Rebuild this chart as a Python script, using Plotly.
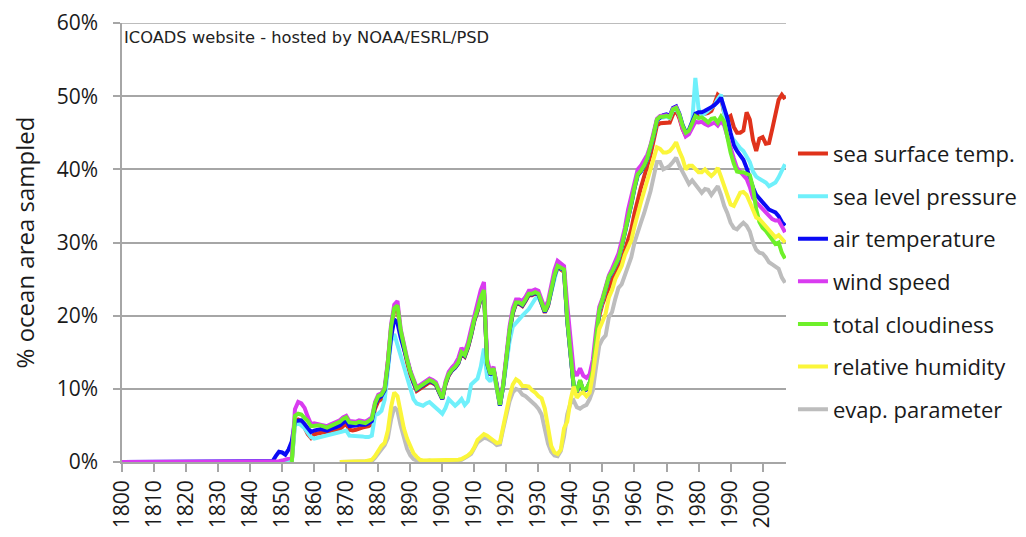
import plotly.graph_objects as go

YEARS = [1800] + list(range(1846, 2008))

N = None
# --- series values (% ocean area sampled) ---
sst = ([0.0] + [0.0, 0.0, 0.0, 0.0]
       + [0.0, 0.0, 0.0, 0.0, 5.5, 5.8, 5.6, 4.6, 3.8, 3.3]
       + [3.8, 3.9, 4.0, 4.1, 4.1, 4.2, 4.3, 4.4, 4.5, 4.9]
       + [5.2, 4.4, 4.3, 4.4, 4.6, 4.7, 4.8, 4.9, 5.2, 7.3]
       + [8.3, 8.6, 9.3, 13.2, 18.2, 20.8, 21.2, 17.7, 15.4, 13.6]
       + [11.9, 10.7, 9.7, 10.0, 10.3, 10.6, 10.9, 10.8, 10.5, 9.5]
       + [8.6, 10.6, 11.8, 12.5, 12.9, 13.5, 14.8, 14.4, 15.6, 17.3]
       + [19.3, 20.6, 22.3, 23.3, 13.4, 11.9, 12.7, 10.1, 7.7, 10.4]
       + [14.3, 17.8, 20.3, 21.6, 21.6, 21.3, 22.0, 22.8, 22.8, 23.0]
       + [22.8, 21.6, 20.4, 21.3, 23.3, 25.3, 26.6, 26.3, 26.0, 19.3]
       + [14.8, 10.4, 9.5, 11.0, 9.7, 9.9, 10.7, 12.3, 16.5, 20.0]
       + [21.6, 22.6, 23.8, 25.0, 26.0, 26.8, 27.5, 29.0, 30.5, 31.8]
       + [34.0, 36.0, 37.5, 39.0, 40.5, 42.0, 44.0, 46.0, 46.3, 46.3]
       + [46.4, 46.4, 47.5, 48.0, 47.0, 45.5, 44.6, 45.0, 46.0, 47.3]
       + [47.5, 47.5, 47.6, 47.7, 48.0, 49.0, 50.2, 49.8, 47.7, 47.0]
       + [47.3, 45.8, 45.0, 45.0, 45.3, 47.8, 46.8, 44.0, 42.5, 44.2]
       + [44.4, 43.5, 43.6, 45.5, 47.5, 49.5, 50.2, 49.6])

slp = ([0.0] + [0.0, 0.0, 0.0, 0.0]
       + [0.0, 0.0, 0.0, 0.0, 5.0, 5.3, 5.0, 4.6, 4.0, 3.4]
       + [3.2, 3.3, 3.4, 3.5, 3.6, 3.8, 3.9, 4.0, 4.1, 4.2]
       + [4.3, 3.6, 3.6, 3.6, 3.5, 3.5, 3.4, 3.4, 3.6, 6.4]
       + [6.6, 7.0, 8.5, 12.5, 16.5, 17.5, 16.0, 14.5, 13.0, 11.8]
       + [10.2, 8.6, 8.0, 7.8, 7.7, 8.0, 8.2, 7.8, 7.3, 7.0]
       + [6.6, 7.4, 8.6, 8.2, 7.7, 8.1, 8.6, 7.8, 8.3, 10.6]
       + [11.0, 11.4, 13.0, 15.5, 11.5, 11.0, 12.3, 10.0, 7.7, 10.3]
       + [13.5, 16.5, 18.5, 19.1, 19.5, 20.0, 20.4, 20.9, 21.6, 22.3]
       + [22.6, 21.6, 20.6, 21.5, 23.4, 25.4, 26.7, 26.4, 26.2, 19.4]
       + [14.9, 10.4, 9.7, 11.1, 9.7, 9.9, 10.8, 12.4, 16.8, 20.5]
       + [22.0, 23.5, 25.2, 25.9, 26.7, 27.7, 29.4, 31.2, 33.4, 35.2]
       + [37.4, 39.2, 39.7, 40.4, 41.4, 42.9, 44.7, 46.7, 47.1, 47.1]
       + [47.2, 47.0, 48.1, 48.3, 47.4, 45.9, 44.9, 45.2, 46.3, 52.5]
       + [48.3, 47.3, 47.6, 48.0, 48.4, 48.8, 49.6, 50.2, 47.7, 45.6]
       + [44.6, 44.0, 43.4, 42.9, 42.5, 41.8, 41.0, 39.7, 39.0, 38.7]
       + [38.5, 38.2, 37.7, 37.9, 38.2, 38.9, 39.7, 40.7])

air = ([0.0] + [0.0, 0.1, 0.8, 1.4]
       + [1.3, 1.0, 1.7, 2.8, 5.6, 5.7, 5.7, 5.2, 4.6, 4.1]
       + [4.3, 4.4, 4.5, 4.4, 4.3, 4.5, 4.6, 4.8, 5.0, 5.4]
       + [5.7, 4.9, 4.9, 5.0, 5.1, 5.1, 5.1, 5.3, 5.6, 7.8]
       + [8.7, 9.0, 9.8, 13.2, 17.0, 19.5, 19.0, 17.0, 15.5, 13.8]
       + [12.1, 10.9, 9.9, 10.2, 10.5, 10.9, 11.1, 10.9, 10.6, 9.5]
       + [8.6, 10.7, 11.9, 12.5, 12.9, 13.5, 14.9, 14.5, 15.7, 17.4]
       + [19.4, 20.7, 22.4, 23.4, 13.4, 11.9, 12.7, 10.6, 7.7, 10.4]
       + [14.4, 17.9, 20.4, 21.7, 21.7, 21.4, 22.1, 22.9, 22.9, 23.1]
       + [22.9, 21.7, 20.5, 21.4, 23.4, 25.4, 26.7, 26.4, 26.2, 19.4]
       + [14.9, 10.4, 9.5, 11.1, 9.7, 9.9, 10.8, 12.4, 16.9, 20.6]
       + [22.1, 23.5, 25.2, 25.9, 26.7, 27.7, 29.4, 31.2, 33.4, 35.2]
       + [37.4, 39.2, 39.7, 40.4, 41.4, 42.9, 44.7, 46.7, 47.1, 47.4]
       + [47.5, 47.3, 48.4, 48.6, 47.6, 46.1, 45.1, 45.4, 46.5, 47.6]
       + [47.8, 47.8, 48.0, 48.2, 48.5, 48.8, 49.2, 49.8, 48.5, 47.0]
       + [45.0, 43.3, 42.5, 41.8, 41.3, 40.2, 38.8, 37.5, 36.5, 36.0]
       + [35.7, 35.0, 34.5, 34.3, 34.1, 33.6, 32.8, 32.3])

wind = ([0.0] + [0.0, 0.0, 0.0, 0.1]
        + [0.2, 0.3, 0.4, 0.6, 7.2, 8.2, 8.0, 7.4, 6.2, 5.2]
        + [5.3, 5.2, 5.2, 5.1, 4.9, 5.1, 5.3, 5.5, 5.7, 6.1]
        + [6.3, 5.6, 5.5, 5.5, 5.7, 5.6, 5.5, 5.8, 6.1, 8.2]
        + [9.2, 9.4, 10.2, 13.8, 18.8, 21.5, 22.0, 18.2, 16.0, 14.2]
        + [12.5, 11.2, 10.2, 10.5, 10.8, 11.2, 11.4, 11.2, 10.9, 9.8]
        + [8.9, 11.0, 12.3, 12.9, 13.4, 14.2, 15.6, 15.0, 16.3, 18.2]
        + [20.0, 21.5, 23.5, 24.6, 14.0, 12.3, 13.0, 10.4, 8.0, 10.7]
        + [14.8, 18.5, 21.0, 22.2, 22.2, 22.0, 22.6, 23.4, 23.4, 23.6]
        + [23.4, 22.2, 21.0, 22.0, 24.0, 26.2, 27.5, 27.2, 26.8, 21.5]
        + [17.5, 12.5, 11.8, 12.8, 11.8, 11.5, 12.0, 14.0, 18.0, 21.2]
        + [22.4, 23.8, 25.5, 26.4, 27.3, 28.5, 30.2, 32.0, 34.5, 36.3]
        + [38.3, 40.0, 40.5, 41.2, 42.0, 43.3, 45.0, 46.9, 47.3, 47.3]
        + [47.4, 47.2, 48.3, 48.5, 47.4, 45.6, 44.5, 44.8, 45.6, 46.5]
        + [46.4, 46.5, 46.2, 46.0, 46.2, 46.4, 46.0, 46.6, 46.0, 44.5]
        + [42.7, 41.5, 40.2, 39.7, 39.2, 38.7, 37.6, 36.1, 35.5, 35.0]
        + [34.6, 34.1, 33.6, 33.2, 33.0, 33.0, 32.2, 31.4])

cloud = ([N] + [N, N, N, N]
         + [N, N, N, 0.0, 6.3, 6.6, 6.5, 6.0, 5.6, 4.9]
         + [5.0, 5.0, 5.0, 4.9, 4.7, 4.9, 5.1, 5.3, 5.5, 5.9]
         + [6.1, 5.4, 5.3, 5.3, 5.5, 5.4, 5.3, 5.6, 5.9, 8.0]
         + [9.0, 9.2, 10.0, 13.5, 18.5, 21.0, 21.4, 18.0, 15.8, 14.0]
         + [12.3, 11.0, 10.0, 10.3, 10.6, 11.0, 11.2, 11.0, 10.7, 9.6]
         + [8.7, 10.8, 12.0, 12.6, 13.0, 13.6, 15.0, 14.6, 15.8, 17.5]
         + [19.5, 20.8, 22.5, 23.5, 13.5, 12.0, 12.8, 10.2, 7.8, 10.5]
         + [14.5, 18.0, 20.5, 21.8, 21.8, 21.5, 22.2, 23.0, 23.0, 23.2]
         + [23.0, 21.8, 20.6, 21.5, 23.5, 25.5, 26.8, 26.5, 26.3, 19.5]
         + [15.0, 10.5, 9.6, 11.2, 9.8, 10.0, 10.9, 12.5, 17.0, 20.7]
         + [22.2, 23.6, 25.3, 26.0, 26.8, 27.8, 29.5, 31.3, 33.5, 35.3]
         + [37.5, 39.3, 39.8, 40.5, 41.5, 43.0, 44.8, 46.8, 47.2, 47.2]
         + [47.3, 47.1, 48.2, 48.4, 47.5, 46.0, 45.0, 45.3, 46.2, 47.3]
         + [47.0, 47.1, 46.8, 46.4, 46.9, 47.0, 46.4, 47.2, 46.5, 44.3]
         + [42.3, 40.8, 39.7, 39.6, 39.6, 39.4, 39.2, 37.5, 34.5, 32.8]
         + [32.0, 31.6, 31.0, 30.6, 29.8, 30.0, 28.6, 27.8])

humid = ([N] + [N, N, N, N]
         + [N, N, N, N, N, N, N, N, N, N]
         + [N, N, N, N, N, N, N, N, 0.0, 0.0]
         + [0.0, 0.0, 0.1, 0.1, 0.1, 0.1, 0.1, 0.2, 0.3, 0.8]
         + [1.6, 2.2, 2.6, 4.3, 7.5, 9.5, 9.0, 6.8, 4.6, 3.2]
         + [2.2, 1.2, 0.7, 0.3, 0.2, 0.2, 0.3, 0.2, 0.2, 0.2]
         + [0.2, 0.3, 0.2, 0.2, 0.2, 0.3, 0.4, 0.6, 0.9, 1.3]
         + [2.0, 3.0, 3.5, 3.8, 3.6, 3.3, 3.0, 2.6, 2.7, 5.0]
         + [7.0, 9.0, 10.6, 11.3, 11.0, 10.4, 10.4, 10.3, 9.8, 9.5]
         + [9.0, 8.7, 7.3, 5.0, 2.2, 1.3, 1.1, 1.7, 4.6, 5.5]
         + [8.4, 10.3, 8.8, 9.3, 9.5, 9.0, 9.5, 12.0, 15.5, 18.2]
         + [19.2, 20.3, 22.5, 23.5, 25.0, 26.0, 26.8, 28.3, 29.3, 30.3]
         + [32.2, 34.0, 35.5, 37.0, 38.5, 39.8, 41.5, 43.0, 42.8, 42.3]
         + [42.3, 42.5, 43.0, 43.7, 42.5, 41.5, 40.0, 40.5, 40.5, 40.0]
         + [39.6, 39.6, 40.0, 39.5, 39.1, 39.5, 40.2, 39.0, 37.7, 36.5]
         + [35.2, 35.0, 36.0, 36.8, 36.9, 36.5, 35.5, 34.5, 33.4, 33.2]
         + [32.7, 32.3, 31.8, 31.2, 30.7, 31.0, 30.5, 30.0])

evap = ([N] + [N, N, N, N]
        + [N, N, N, N, N, N, N, N, N, N]
        + [N, N, N, N, N, N, N, N, 0.0, 0.0]
        + [0.0, 0.0, 0.0, 0.0, 0.0, 0.0, 0.0, 0.0, 0.1, 0.6]
        + [1.2, 1.8, 2.3, 3.3, 5.8, 7.5, 7.0, 5.0, 3.2, 1.8]
        + [0.9, 0.4, 0.2, 0.1, 0.1, 0.1, 0.2, 0.1, 0.1, 0.1]
        + [0.1, 0.2, 0.1, 0.1, 0.1, 0.2, 0.3, 0.5, 0.8, 1.1]
        + [1.8, 2.7, 3.0, 3.3, 3.2, 3.0, 2.7, 2.3, 2.4, 4.5]
        + [6.5, 8.3, 9.5, 10.0, 9.8, 9.2, 9.0, 8.6, 8.3, 7.8]
        + [7.3, 6.5, 4.5, 2.5, 1.4, 0.9, 0.8, 1.5, 3.5, 6.5]
        + [8.0, 8.4, 7.5, 7.3, 7.6, 7.8, 8.6, 9.8, 13.0, 15.9]
        + [16.8, 17.3, 19.8, 20.5, 22.3, 23.8, 24.3, 25.5, 27.0, 28.0]
        + [30.0, 31.5, 32.7, 34.0, 35.5, 37.0, 39.0, 41.0, 41.0, 40.0]
        + [40.2, 40.5, 41.0, 41.6, 40.5, 39.6, 38.8, 38.0, 38.5, 38.0]
        + [37.3, 36.8, 37.3, 37.2, 36.5, 37.0, 37.7, 36.5, 35.0, 34.0]
        + [32.7, 32.0, 31.8, 32.3, 32.7, 32.3, 31.5, 30.0, 29.0, 28.6]
        + [28.5, 28.0, 27.3, 27.0, 26.7, 26.4, 25.2, 24.5])

NAMES = ["sea surface temp.", "sea level pressure", "air temperature", "wind speed",
         "total cloudiness", "relative humidity", "evap. parameter"]
COLORS = ["#e0321b", "#6ff0fb", "#0a0af5", "#d93bf0", "#6ef02a", "#fbf63a", "#bdbdbd"]
SERIES = [sst, slp, air, wind, cloud, humid, evap]
DRAW_ORDER = [0, 1, 2, 3, 4, 6, 5]

XTICKS = list(range(1800, 2001, 10))
YTICKS = [0, 10, 20, 30, 40, 50, 60]

for s in SERIES:
    assert len(s) == len(YEARS), len(s)

FONT = "Open Sans"
fig = go.Figure()
for i in DRAW_ORDER:
    ys = [None if v is None else v / 100.0 for v in SERIES[i]]
    fig.add_trace(go.Scatter(
        x=YEARS, y=ys, mode="lines", name=NAMES[i],
        line=dict(color=COLORS[i], width=4),
        legendgroup=NAMES[i], legendrank=i + 1,
        connectgaps=False, hoverinfo="skip",
    ))

grid = "#a6a6a6"
NBSP = "\u00a0"
# the page body has an 8px margin, so the figure is sized/offset to compensate
fig.update_layout(
    width=1018, height=531,
    margin=dict(l=114, r=240, t=15, b=77, autoexpand=False),
    paper_bgcolor="white", plot_bgcolor="white",
    font=dict(family=FONT, size=21, color="#1a1a1a"),
    showlegend=True,
    legend=dict(x=1.0105, xanchor="left", y=0.75, yanchor="top",
                font=dict(family=FONT, size=22, color="#1a1a1a"),
                tracegroupgap=11, itemwidth=30, bgcolor="rgba(0,0,0,0)"),
    xaxis=dict(range=[1800, 2007.3], tickmode="array", tickvals=XTICKS,
               ticktext=[str(t) for t in XTICKS], tickangle=-90, automargin=False,
               ticks="outside", ticklen=8, tickcolor=grid, tickwidth=1.5,
               showline=True, linecolor=grid, linewidth=1.5,
               showgrid=False, zeroline=False, ticklabeloverflow="allow",
               tickfont=dict(family=FONT, size=21, color="#1a1a1a")),
    yaxis=dict(range=[0, 0.6], tickmode="array", tickvals=[t / 100 for t in YTICKS],
               ticktext=[f"{t}%{NBSP}{NBSP}" for t in YTICKS], automargin=False,
               ticks="outside", ticklen=7, tickcolor=grid, tickwidth=1.5,
               ticklabeloverflow="allow",
               showline=True, linecolor=grid, linewidth=1.5,
               showgrid=True, gridcolor=grid, gridwidth=1.5, zeroline=False,
               tickfont=dict(family=FONT, size=21, color="#1a1a1a"),
               title=dict(text="% ocean area sampled", standoff=15,
                          font=dict(family=FONT, size=24, color="#1a1a1a"))),
    shapes=[dict(type="line", xref="paper", x0=0, x1=1, yref="y",
                 y0=YTICKS[-1] / 100, y1=YTICKS[-1] / 100,
                 line=dict(color=grid, width=1.5), layer="below")],
    annotations=[dict(text="ICOADS website - hosted by NOAA/ESRL/PSD",
                      xref="paper", yref="paper", x=0.0, y=0.968,
                      xanchor="left", yanchor="middle", xshift=0, showarrow=False,
                      font=dict(family="DejaVu Sans", size=16.3, color="#222222"))],
)

fig.write_html("out.html")
